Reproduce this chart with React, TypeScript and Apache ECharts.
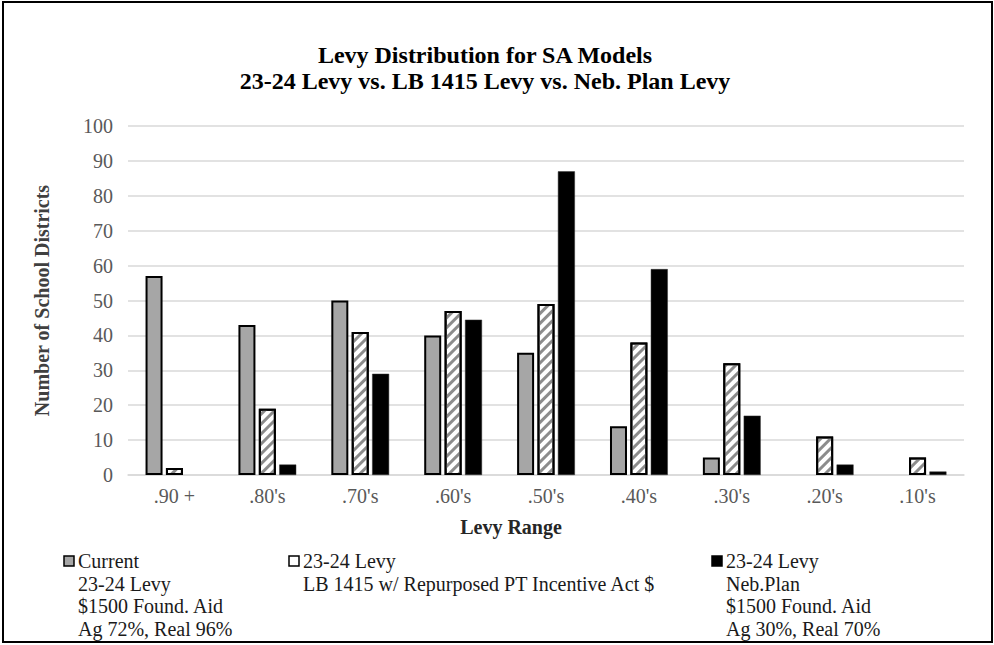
import React, { useEffect, useRef } from "react";
import * as echarts from "echarts";

const categories = [".90 +", ".80's", ".70's", ".60's", ".50's", ".40's", ".30's", ".20's", ".10's"];
const currentValues = [57, 43, 50, 40, 35, 14, 5, 0, 0];
const lb1415Values = [2, 19, 41, 47, 49, 38, 32, 11, 5];
const nebPlanValues = [0, 3, 29, 44.5, 87, 59, 17, 3, 1];
const yTicks = { min: 0, max: 100, interval: 10 };
const titleLines = ["Levy Distribution for SA Models", "23-24 Levy vs. LB 1415 Levy vs. Neb. Plan Levy"];
const legendCurrent = ["Current", "23-24 Levy", "$1500 Found. Aid", "Ag 72%, Real 96%"];
const legendLB = ["23-24 Levy", "LB 1415 w/ Repurposed PT Incentive Act $"];
const legendNeb = ["23-24 Levy", "Neb.Plan", "$1500 Found. Aid", "Ag 30%, Real 70%"];

const FONT = "'Liberation Serif', 'Times New Roman', serif";

const nz = (arr: number[]) => arr.map((v) => (v === 0 ? null : v));

function legendBlock(x: number, y: number, lines: string[], fill: string, stroke: string) {
  return {
    type: "group",
    children: [
      {
        type: "rect",
        shape: { x: x, y: y - 5, width: 10, height: 10 },
        style: { fill, stroke, lineWidth: 1.5 },
      },
      {
        type: "text",
        x: x + 14,
        y: y - 11,
        style: {
          text: lines.join("\n"),
          font: `20px ${FONT}`,
          fill: "#1a1a1a",
          lineHeight: 22.5,
        },
      },
    ],
  };
}

export default function App() {
  const ref = useRef<HTMLDivElement>(null);
  useEffect(() => {
    if (!ref.current) return;
    const chart = echarts.init(ref.current, null, { renderer: "svg" });
    const axisLabelStyle = { fontFamily: FONT, fontSize: 20, color: "#595959" };
    chart.setOption({
      animation: false,
      backgroundColor: "#fff",
      title: {
        text: titleLines.join("\n"),
        left: 480,
        top: 37,
        textAlign: "center",
        textStyle: { fontFamily: FONT, fontSize: 24, fontWeight: "bold", color: "#000", lineHeight: 26 },
      },
      grid: { left: 128, right: 30, top: 126, bottom: 170, containLabel: false },
      xAxis: {
        type: "category",
        data: categories,
        axisLine: { lineStyle: { color: "#d9d9d9", width: 1.5 } },
        axisTick: { show: false },
        axisLabel: { ...axisLabelStyle, margin: 11 },
        name: "Levy Range",
        nameLocation: "middle",
        nameGap: 42,
        nameTextStyle: { fontFamily: FONT, fontSize: 20, fontWeight: "bold", color: "#262626", padding: [0, 70, 0, 0] },
      },
      yAxis: {
        type: "value",
        min: yTicks.min,
        max: yTicks.max,
        interval: yTicks.interval,
        axisLine: { show: false },
        axisTick: { show: false },
        splitLine: { lineStyle: { color: "#d9d9d9", width: 1.5 } },
        axisLabel: { ...axisLabelStyle, margin: 15 },
        name: "Number of School Districts",
        nameLocation: "middle",
        nameGap: 76,
        nameTextStyle: { fontFamily: FONT, fontSize: 20, fontWeight: "bold", color: "#404040" },
      },
      series: [
        {
          name: "Current",
          type: "bar",
          data: nz(currentValues),
          barWidth: 17,
          barGap: "20%",
          itemStyle: { color: "#a6a6a6", borderColor: "#000", borderWidth: 2 },
        },
        {
          name: "LB 1415",
          type: "bar",
          data: nz(lb1415Values),
          barWidth: 17,
          barGap: "20%",
          itemStyle: {
            color: "#ffffff",
            borderColor: "#000",
            borderWidth: 2,
            decal: {
              symbol: "rect",
              symbolSize: 1,
              color: "#8c8c8c",
              dashArrayX: [1, 0],
              dashArrayY: [3, 4],
              rotation: -Math.PI / 4,
            },
          },
        },
        {
          name: "Neb Plan",
          type: "bar",
          data: nz(nebPlanValues),
          barWidth: 17,
          barGap: "20%",
          itemStyle: { color: "#000", borderColor: "#333", borderWidth: 0.5 },
        },
      ],
      graphic: [
        {
          type: "rect",
          shape: { x: 3, y: 2, width: 989, height: 640 },
          style: { fill: "none", stroke: "#000", lineWidth: 2 },
          silent: true,
        },
        legendBlock(64, 561, legendCurrent, "#a6a6a6", "#000"),
        legendBlock(289, 561, legendLB, "#fff", "#000"),
        legendBlock(712, 561, legendNeb, "#000", "#000"),
      ],
    });
    return () => chart.dispose();
  }, []);
  return <div ref={ref} style={{ position: "absolute", left: 0, top: 0, width: 994, height: 645 }} />;
}
